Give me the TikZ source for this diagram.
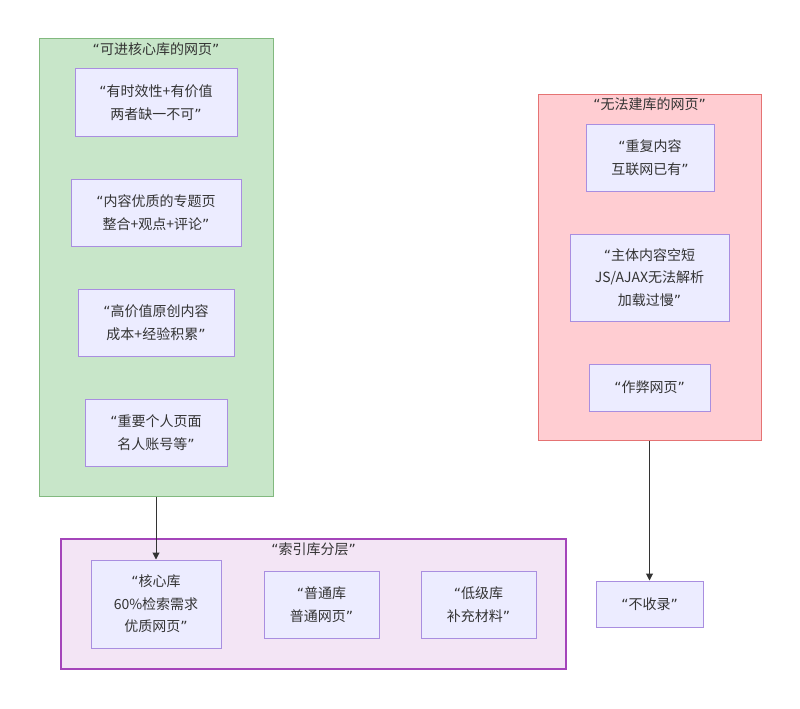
\documentclass[tikz,border=0pt]{standalone}
\usepackage{fontspec}
\setmainfont{Noto Sans CJK SC}
\newfontfamily\latinq{DejaVu Sans}
\newcommand\oq{{\latinq “}}
\newcommand\cq{{\latinq ”}}
\usetikzlibrary{arrows.meta}
\definecolor{textc}{HTML}{333333}
\definecolor{nodef}{HTML}{ECECFF}
\definecolor{nodeb}{HTML}{A98EE0}
\definecolor{grf}{HTML}{C8E6C9}
\definecolor{grb}{HTML}{82B97F}
\definecolor{rdf}{HTML}{FFCDD2}
\definecolor{rdb}{HTML}{E57373}
\definecolor{puf}{HTML}{F3E5F5}
\definecolor{pub}{HTML}{A445BA}
\definecolor{arrc}{HTML}{333333}
\begin{document}
\begin{tikzpicture}[x=1pt,y=-1pt,
  every node/.style={font=\fontsize{14}{22.5}\selectfont, text=textc},
  cluster/.style={rectangle, inner sep=0pt, line width=1pt},
  box/.style={rectangle, draw=nodeb, fill=nodef, line width=1pt, align=center, inner sep=0pt},
  title/.style={inner sep=0pt, anchor=center},
  arr/.style={draw=arrc, line width=1pt, -{Triangle[length=7pt,width=7pt]}}]
\useasboundingbox[fill=white] (0,0) rectangle (800,709);
% clusters
\node[cluster, draw=grb, fill=grf, minimum width=234pt, minimum height=457pt] (g) at (156,267.5) {};
\node[cluster, draw=rdb, fill=rdf, minimum width=223pt, minimum height=346pt] (r) at (649.5,267) {};
\node[cluster, draw=pub, fill=puf, line width=1.8pt, minimum width=505pt, minimum height=130pt] (p) at (313.5,604) {};
\node[title] (gt) at (156,49) {\oq 可进核心库的网页\cq};
\node[title] (rt) at (649.5,104) {\oq 无法建库的网页\cq};
\node[title] (pt) at (313.5,549) {\oq 索引库分层\cq};
% green nodes
\node[box, minimum width=162pt, minimum height=67pt] (n1) at (156,102.5) {\oq 有时效性+有价值\\两者缺一不可\cq};
\node[box, minimum width=170pt, minimum height=67pt] (n2) at (156,212.5) {\oq 内容优质的专题页\\整合+观点+评论\cq};
\node[box, minimum width=156pt, minimum height=67pt] (n3) at (156,322.5) {\oq 高价值原创内容\\成本+经验积累\cq};
\node[box, minimum width=142pt, minimum height=67pt] (n4) at (156,432.5) {\oq 重要个人页面\\名人账号等\cq};
% red nodes
\node[box, minimum width=128pt, minimum height=67pt] (r1) at (650,157.5) {\oq 重复内容\\互联网已有\cq};
\node[box, minimum width=159pt, minimum height=87pt] (r2) at (649.5,277.5) {\oq 主体内容空短\\JS/AJAX无法解析\\加载过慢\cq};
\node[box, minimum width=121pt, minimum height=47pt] (r3) at (649.5,387.5) {\oq 作弊网页\cq};
% purple nodes
\node[box, minimum width=130pt, minimum height=88pt] (p1) at (156,604) {\oq 核心库\\60\%检索需求\\优质网页\cq};
\node[box, minimum width=115pt, minimum height=67pt] (p2) at (321.5,604.5) {\oq 普通库\\普通网页\cq};
\node[box, minimum width=115pt, minimum height=67pt] (p3) at (478.5,604.5) {\oq 低级库\\补充材料\cq};
% outside node
\node[box, minimum width=107pt, minimum height=46pt] (nr) at (649.5,604) {\oq 不收录\cq};
% connectors
\draw[arr] (g.south) -- (p1.north);
\draw[arr] (r.south) -- (nr.north);
\end{tikzpicture}
\end{document}
